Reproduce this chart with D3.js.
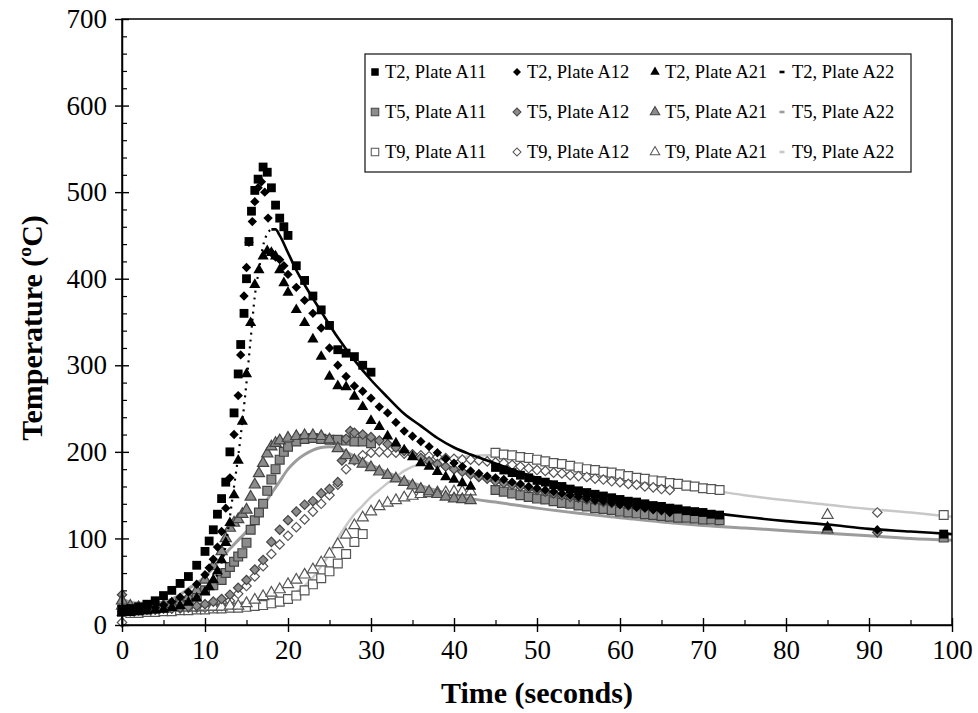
<!DOCTYPE html>
<html>
<head>
<meta charset="utf-8">
<script src="https://cdn.jsdelivr.net/npm/d3@7/dist/d3.min.js"></script>
<style>
  body { margin: 0; background: #fff; }
  svg text { font-family: "Liberation Serif", "Times New Roman", serif; }
</style>
</head>
<body>
<svg id="chart" width="978" height="713"></svg>
<script>
// [time (s), temperature (C)]
var t2A11 = [[0,18],[1,19],[2,21],[3,24],[4,28],[5,34],[6,40],[7,48],[8,56],[9,69],[10,85],[10.5,97],[11,110],[11.5,128],[12,146],[12.5,165],[13,200],[13.5,245],[14,290],[14.3,324],[14.7,360],[15,400],[15.3,443],[15.6,478],[16,502],[16.4,515],[17,529],[17.5,523],[18,505],[18.5,485],[19,470],[19.5,460],[20,450],[21,415],[22,398],[23,380],[24,364],[25,346],[26,318],[27,314],[28,310],[29,300],[30,292],
  [45,182],[46,179],[47,176],[48,173],[49,170],[50,167],[51,165],[52,162],[53,160],[54,157],[55,155],[56,153],[57,151],[58,149],[59,147],[60,145],[61,143],[62,142],[63,140],[64,138],[65,137],[66,135],[67,134],[68,132],[69,131],[70,130],[71,128],[72,127],[99,105]];
var t2A12 = [[0,15],[1,15],[2,16],[3,18],[4,20],[5,23],[6,27],[7,32],[8,38],[9,47],[10,58],[10.5,66],[11,76],[11.5,90],[12,108],[12.5,135],[13,170],[13.5,220],[14,265],[14.3,312],[14.7,380],[15,413],[15.3,442],[15.7,466],[16,489],[16.4,505],[16.8,512],[17.2,500],[17.6,470],[18,430],[18.5,425],[19,422],[19.5,415],[20,405],[21,390],[22,375],[23,360],[24,343],[25,320],[26,300],[27,287],[28,276],[29,270],[30,262],[31,252],[32,245],[33,234],[34,224],[35,218],[36,212],[37,206],[38,199],[39,192],[40,187],[41,183],[42,178],[43,175],[44,172],
  [45,170],[46,168],[47,165],[48,163],[49,160],[50,158],[51,156],[52,154],[53,152],[54,150],[55,148],[56,146],[57,144],[58,143],[59,141],[60,139],[61,138],[62,136],[63,135],[64,133],[65,132],[66,130],[91,110]];
var t2A21 = [[0,14],[1,14],[2,15],[3,16],[4,17],[5,18],[6,20],[7,22],[8,26],[9,31],[10,38],[10.5,44],[11,52],[11.5,62],[12,75],[12.5,95],[13,118],[13.5,150],[14,190],[14.5,235],[15,290],[15.5,349],[16,393],[16.5,410],[17,426],[17.5,432],[18,430],[18.5,426],[19,410],[19.5,395],[20,384],[21,364],[22,349],[23,330],[24,310],[25,287],[26,276],[27,275],[28,264],[29,252],[30,236],[31,229],[32,218],[33,210],[34,202],[35,194],[36,187],[37,183],[38,177],[39,171],[40,168],[41,164],[42,160],[85,113]];
var t2A22 = [[0,22],[2,22],[4,23],[6,24],[8,28],[9,32],[10,38],[11,50],[12,72],[12.5,92],[13,125],[13.5,160],[14,195],[14.5,235],[15,280],[15.5,330],[16,380],[16.5,410],[17,438],[17.5,452],[18,457],[18.5,457],[19,450],[20,430],[21,410],[22,393],[24,362],[26,332],[28,306],[30,283],[32,263],[34,244],[36,230],[38,216],[40,205],[42,197],[44,190],[46,183],[50,170],[55,157],[60,146],[65,138],[70,131],[75,125],[80,120],[85,116],[90,111],[95,108],[100,105]];

var t5A11 = [[0,18],[1,17],[2,17],[3,18],[4,19],[5,20],[6,22],[7,25],[8,28],[9,33],[10,40],[11,46],[12,52],[12.5,60],[13,67],[13.5,73],[14,79],[14.5,83],[15,95],[15.5,110],[16,121],[16.5,130],[17,140],[17.5,155],[18,168],[18.5,180],[19,191],[19.5,200],[20,206],[21,212],[22,215],[23,216],[24,215],[25,214],[26,214],[27,213],[28,212],[29,212],[30,210],
  [45,156],[46,154],[47,152],[48,150],[49,148],[50,146],[51,145],[52,143],[53,141],[54,140],[55,138],[56,137],[57,135],[58,134],[59,133],[60,131],[61,130],[62,129],[63,128],[64,127],[65,126],[66,125],[67,124],[68,124],[69,123],[70,122],[71,122],[72,121],[99,101]];
var t5A12 = [[0,35],[1,20],[2,18],[3,18],[4,18],[5,19],[6,19],[7,20],[8,21],[9,22],[10,24],[11,27],[12,30],[13,35],[14,43],[15,52],[16,64],[17,75],[18,96],[19,110],[20,121],[21,131],[22,139],[23,143],[24,152],[25,157],[26,165],[26.5,190],[27,215],[27.5,224],[28,222],[29,220],[30,217],[31,213],[32,209],[33,205],[34,201],[35,197],[36,193],[37,189],[38,186],[39,183],[40,180],[41,177],[42,174],[43,171],[44,169],
  [45,166],[46,164],[47,162],[48,160],[49,158],[50,156],[51,154],[52,152],[53,150],[54,148],[55,147],[56,145],[57,144],[58,142],[59,141],[60,140],[61,138],[62,137],[63,136],[64,135],[65,134],[66,133],[91,107]];
var t5A21 = [[0,28],[1,22],[2,20],[3,20],[4,21],[5,22],[6,24],[7,27],[8,32],[9,40],[10,52],[11,68],[12,85],[12.5,100],[13,112],[13.5,118],[14,122],[14.5,128],[15,133],[15.5,148],[16,162],[16.5,175],[17,187],[17.5,198],[18,206],[18.5,210],[19,213],[20,216],[21,218],[22,219],[23,219],[24,218],[25,214],[26,204],[27,196],[28,190],[29,186],[30,182],[31,177],[32,173],[33,169],[34,165],[35,161],[36,157],[37,154],[38,151],[39,148],[40,146],[41,145],[42,144],[85,110]];
var t5A22 = [[0,30],[1,26],[2,24],[3,24],[4,25],[5,27],[6,30],[7,35],[8,42],[9,48],[10,56],[11,66],[12,78],[13,88],[14,98],[15,108],[16,122],[17,137],[18,152],[19,166],[20,180],[21,190],[22,197],[23,202],[24,205],[25,206],[26,205],[27,200],[28,195],[29,190],[30,185],[32,176],[34,168],[36,161],[38,155],[40,150],[42,146],[45,142],[50,135],[55,129],[60,124],[65,119],[70,115],[75,112],[80,109],[85,106],[90,103],[95,100],[100,98]];

var t9A11 = [[0,15],[1,14],[2,14],[3,15],[4,15],[5,16],[6,16],[7,17],[8,17],[9,18],[10,18],[11,19],[12,19],[13,20],[14,20],[15,21],[16,22],[17,23],[18,25],[19,27],[20,30],[21,34],[22,40],[23,47],[24,54],[25,62],[26,71],[27,82],[28,96],[29,105],
  [45,199],[46,197],[47,196],[48,194],[49,193],[50,191],[51,189],[52,187],[53,186],[54,184],[55,182],[56,180],[57,179],[58,177],[59,176],[60,174],[61,172],[62,170],[63,169],[64,167],[65,166],[66,164],[67,163],[68,161],[69,160],[70,158],[71,157],[72,156],[99,127]];
var t9A12 = [[0,3],[1,18],[2,18],[3,18],[4,18],[5,19],[6,19],[7,19],[8,20],[9,20],[10,20],[11,21],[12,22],[13,28],[14,36],[15,45],[16,56],[17,68],[18,82],[19,93],[20,103],[21,113],[22,122],[23,131],[24,140],[25,150],[26,162],[27,180],[28,190],[29,196],[30,199],[31,200],[32,199],[33,199],[34,198],[35,197],[36,196],[37,195],[38,194],[39,193],[40,192],[41,191],[42,191],[43,190],[44,189],
  [45,188],[46,187],[47,185],[48,183],[49,181],[50,179],[51,178],[52,176],[53,175],[54,173],[55,172],[56,171],[57,169],[58,168],[59,166],[60,165],[61,163],[62,162],[63,160],[64,159],[65,157],[66,156],[91,130]];
var t9A21 = [[0,22],[1,20],[2,20],[3,19],[4,19],[5,19],[6,20],[7,20],[8,20],[9,20],[10,21],[11,21],[12,21],[13,22],[14,22],[15,25],[16,29],[17,33],[18,37],[19,41],[20,47],[21,52],[22,58],[23,64],[24,72],[25,82],[26,93],[27,104],[28,115],[29,124],[30,131],[31,137],[32,141],[33,144],[34,147],[35,149],[36,151],[37,152],[38,153],[39,153],[40,154],[41,154],[42,154],[85,127]];
var t9A22 = [[0,30],[1,27],[2,26],[4,25],[6,25],[8,25],[10,25],[12,25],[14,26],[16,26],[18,28],[19,30],[20,33],[21,38],[22,45],[23,55],[24,68],[25,82],[26,100],[27,115],[28,128],[29,138],[30,148],[31,156],[32,164],[33,171],[34,178],[35,183],[36,186],[38,190],[40,193],[42,195],[44,196],[46,195],[50,190],[55,181],[60,172],[65,164],[70,157],[75,150],[80,144],[85,139],[90,134],[95,130],[100,125]];

var xMajor = [0,10,20,30,40,50,60,70,80,90,100];
var xMinor = [5,15,25,35,45,55,65,75,85,95];
var yMajor = [0,100,200,300,400,500,600,700];
var yMinor = [20,40,60,80,120,140,160,180,220,240,260,280,320,340,360,380,420,440,460,480,520,540,560,580,620,640,660,680];

var series = [
  { name: "T2, Plate A11", data: t2A11, shape: "square", tone: "black" },
  { name: "T2, Plate A12", data: t2A12, shape: "diamond", tone: "black" },
  { name: "T2, Plate A21", data: t2A21, shape: "triangle", tone: "black" },
  { name: "T2, Plate A22", data: t2A22, shape: "line", tone: "black" },
  { name: "T5, Plate A11", data: t5A11, shape: "square", tone: "gray" },
  { name: "T5, Plate A12", data: t5A12, shape: "diamond", tone: "gray" },
  { name: "T5, Plate A21", data: t5A21, shape: "triangle", tone: "gray" },
  { name: "T5, Plate A22", data: t5A22, shape: "line", tone: "gray" },
  { name: "T9, Plate A11", data: t9A11, shape: "square", tone: "white" },
  { name: "T9, Plate A12", data: t9A12, shape: "diamond", tone: "white" },
  { name: "T9, Plate A21", data: t9A21, shape: "triangle", tone: "white" },
  { name: "T9, Plate A22", data: t9A22, shape: "line", tone: "white" }
];

var tones = {
  black: { fill: "#000", stroke: "#000", line: "#000", lineWidth: 2.6 },
  gray: { fill: "#8c8c8c", stroke: "#444", line: "#9c9c9c", lineWidth: 3 },
  white: { fill: "#fff", stroke: "#555", line: "#c8c8c8", lineWidth: 2.5 }
};

var symbols = {
  square: d3.symbol(d3.symbolSquare, 78),
  diamond: d3.symbol(d3.symbolSquare, 44),
  triangle: d3.symbol(d3.symbolTriangle, 54)
};

var serif = "Liberation Serif, Times New Roman, serif";
var svg = d3.select("#chart");
var x = d3.scaleLinear().domain([0, 100]).range([122, 952]);
var y = d3.scaleLinear().domain([0, 700]).range([625, 19]);

var line = d3.line()
  .x(function (d) { return x(d[0]); })
  .y(function (d) { return y(d[1]); })
  .curve(d3.curveMonotoneX);

function drawMarker(g, s, cx, cy, k) {
  var tone = tones[s.tone];
  var rot = s.shape === "diamond" ? " rotate(45)" : "";
  return g.append("path")
    .attr("d", symbols[s.shape]())
    .attr("transform", "translate(" + cx + "," + cy + ")" + rot + " scale(" + (k || 1) + ")")
    .attr("fill", tone.fill)
    .attr("stroke", tone.stroke)
    .attr("stroke-width", s.tone === "black" ? 0 : 1.2);
}

// A22 series are drawn as curves
var curves = svg.append("g");
["white", "gray"].forEach(function (tn) {
  series.filter(function (s) { return s.shape === "line" && s.tone === tn; }).forEach(function (s) {
    curves.append("path")
      .attr("d", line(s.data))
      .attr("fill", "none")
      .attr("stroke", tones[tn].line)
      .attr("stroke-width", tones[tn].lineWidth);
  });
});

var marks = svg.append("g");
["white", "gray", "black"].forEach(function (tn) {
  series.filter(function (s) { return s.shape !== "line" && s.tone === tn; }).forEach(function (s) {
    s.data.forEach(function (d) {
      drawMarker(marks, s, x(d[0]), y(d[1]));
    });
  });
});

// T2, A22: dotted on the way up, solid after the peak
var t2Line = series[3];
var peak = d3.maxIndex(t2Line.data, function (d) { return d[1]; });
svg.append("path")
  .attr("d", line(t2Line.data.slice(0, peak + 1)))
  .attr("fill", "none")
  .attr("stroke", "#000")
  .attr("stroke-width", 2.2)
  .attr("stroke-dasharray", "2,5");
svg.append("path")
  .attr("d", line(t2Line.data.slice(peak)))
  .attr("fill", "none")
  .attr("stroke", "#000")
  .attr("stroke-width", tones.black.lineWidth);

// frame
svg.append("rect")
  .attr("x", x(0)).attr("y", y(700))
  .attr("width", x(100) - x(0)).attr("height", y(0) - y(700))
  .attr("fill", "none").attr("stroke", "#000").attr("stroke-width", 1.5);

function styleAxis(g) {
  g.attr("font-family", serif).attr("font-size", 27);
  g.selectAll(".tick line").attr("stroke-width", 1.4);
  g.select(".domain").attr("stroke-width", 1.5);
}
function innerTicks(width) {
  return function (g) {
    g.select(".domain").remove();
    g.selectAll("line").attr("stroke-width", width);
  };
}

var xAxis = svg.append("g")
  .attr("transform", "translate(0," + y(0) + ")")
  .call(d3.axisBottom(x).tickValues(xMajor).tickSize(7).tickSizeOuter(0).tickPadding(8).tickFormat(d3.format("d")));
styleAxis(xAxis);
svg.append("g")
  .attr("transform", "translate(0," + y(0) + ")")
  .call(d3.axisTop(x).tickValues(xMajor).tickSize(7).tickFormat(""))
  .call(innerTicks(1.4));
svg.append("g")
  .attr("transform", "translate(0," + y(0) + ")")
  .call(d3.axisTop(x).tickValues(xMinor).tickSize(5).tickFormat(""))
  .call(innerTicks(1.2));

var yAxis = svg.append("g")
  .attr("transform", "translate(" + x(0) + ",0)")
  .call(d3.axisLeft(y).tickValues(yMajor).tickSize(7).tickSizeOuter(0).tickPadding(8).tickFormat(d3.format("d")));
styleAxis(yAxis);
svg.append("g")
  .attr("transform", "translate(" + x(0) + ",0)")
  .call(d3.axisRight(y).tickValues(yMajor).tickSize(7).tickFormat(""))
  .call(innerTicks(1.4));
svg.append("g")
  .attr("transform", "translate(" + x(0) + ",0)")
  .call(d3.axisRight(y).tickValues(yMinor).tickSize(5).tickFormat(""))
  .call(innerTicks(1.2));

svg.append("text")
  .attr("x", 537).attr("y", 703)
  .attr("text-anchor", "middle")
  .attr("font-family", serif)
  .attr("font-size", 30).attr("font-weight", "bold")
  .text("Time (seconds)");
svg.append("text")
  .attr("transform", "translate(42,328) rotate(-90)")
  .attr("text-anchor", "middle")
  .attr("font-family", serif)
  .attr("font-size", 30).attr("font-weight", "bold")
  .text("Temperature (\u00baC)");

// legend
var legend = svg.append("g");
legend.append("rect")
  .attr("x", 365).attr("y", 54).attr("width", 546).attr("height", 118)
  .attr("fill", "#fff").attr("stroke", "#222").attr("stroke-width", 1.3);
var colX = [375, 517, 655, 782];
var rowY = [72, 112, 152];
series.forEach(function (s, i) {
  var cx = colX[i % 4], cy = rowY[Math.floor(i / 4)];
  if (s.shape === "line") {
    legend.append("rect")
      .attr("x", cx - 2.5).attr("y", cy - 1.3).attr("width", 5).attr("height", 2.6)
      .attr("fill", s.tone === "black" ? "#000" : tones[s.tone].line);
  } else {
    drawMarker(legend, s, cx, cy, 0.85);
  }
  legend.append("text")
    .attr("x", cx + 10).attr("y", cy + 6)
    .attr("font-family", serif)
    .attr("font-size", 18.5)
    .text(s.name);
});
</script>
</body>
</html>
